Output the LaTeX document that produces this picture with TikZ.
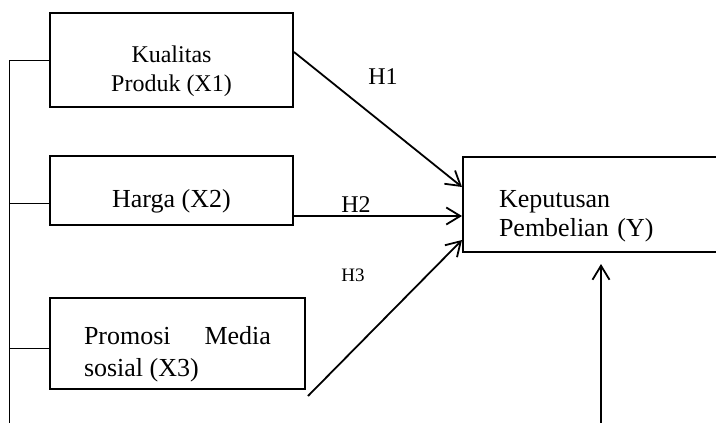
\documentclass[tikz,border=0pt]{standalone}
\usepackage{fontspec}
\setmainfont{Liberation Serif}
\usetikzlibrary{arrows.meta}
\newcommand{\boxstrut}{\rule{0pt}{40pt}}

\begin{document}
\begin{tikzpicture}[x=1pt,y=-1pt,>={Straight Barb[length=14pt,width=17pt]},
                    line width=1.8pt]
  \tikzstyle{var}=[draw,rectangle,inner sep=0pt,line width=2pt,
                   font=\fontsize{26}{29}\selectfont]
  \tikzstyle{hyp}=[font=\fontsize{24}{29}\selectfont]
  \clip (0,0) rectangle (716,423);

  \node[var,minimum width=243,minimum height=94,align=center,
        font=\fontsize{24}{29}\selectfont] (X1) at (171.5,60) {\boxstrut Kualitas\\Produk (X1)};
  \node[var,minimum width=243,minimum height=69,align=center] (X2) at (171.5,190.5) {\boxstrut Harga (X2)};
  \node[var,minimum width=255,minimum height=91,text width=187,align=justify,
        font=\fontsize{26}{32}\selectfont] (X3) at (177.5,343.5) {\boxstrut Promosi\hfill Media\\sosial (X3)};
  \node[var,minimum width=320,minimum height=95,text width=248,inner xsep=36pt,align=left,
        font=\fontsize{26}{29}\selectfont] (Y) at (623,204.5) {\boxstrut Keputusan\\Pembelian (Y)};

  \node[hyp] (h1) at (383,77) {H1};
  \node[hyp] (h2) at (356,205) {H2};
  \node[hyp,font=\fontsize{19}{22}\selectfont] (h3) at (353,275) {H3};

  % hypotheses
  \draw[->] ([yshift=8pt]X1.east) -- ([yshift=17.5pt]Y.west);
  \draw[->] ([yshift=-25.5pt]X2.east) -- ([yshift=-11.5pt]Y.west);
  \draw[->] ([xshift=2pt,yshift=-6pt]X3.south east) -- ([yshift=-35.5pt]Y.west);

  % left bus and bottom input
  \coordinate (busEnd) at (9,430);
  \coordinate (b2) at ([yshift=-12.5pt]X2.west);
  \coordinate (b3) at ([yshift=-4.5pt]X3.west);
  \coordinate (yIn) at (601,430);
  \draw[line width=1pt] (X1.west) -| (busEnd);
  \draw[line width=1pt] (b2) -- (b2 -| busEnd);
  \draw[line width=1pt] (b3) -- (b3 -| busEnd);
  \draw[->,shorten >=11pt] (yIn) -- (yIn |- Y.south);
\end{tikzpicture}
\end{document}
